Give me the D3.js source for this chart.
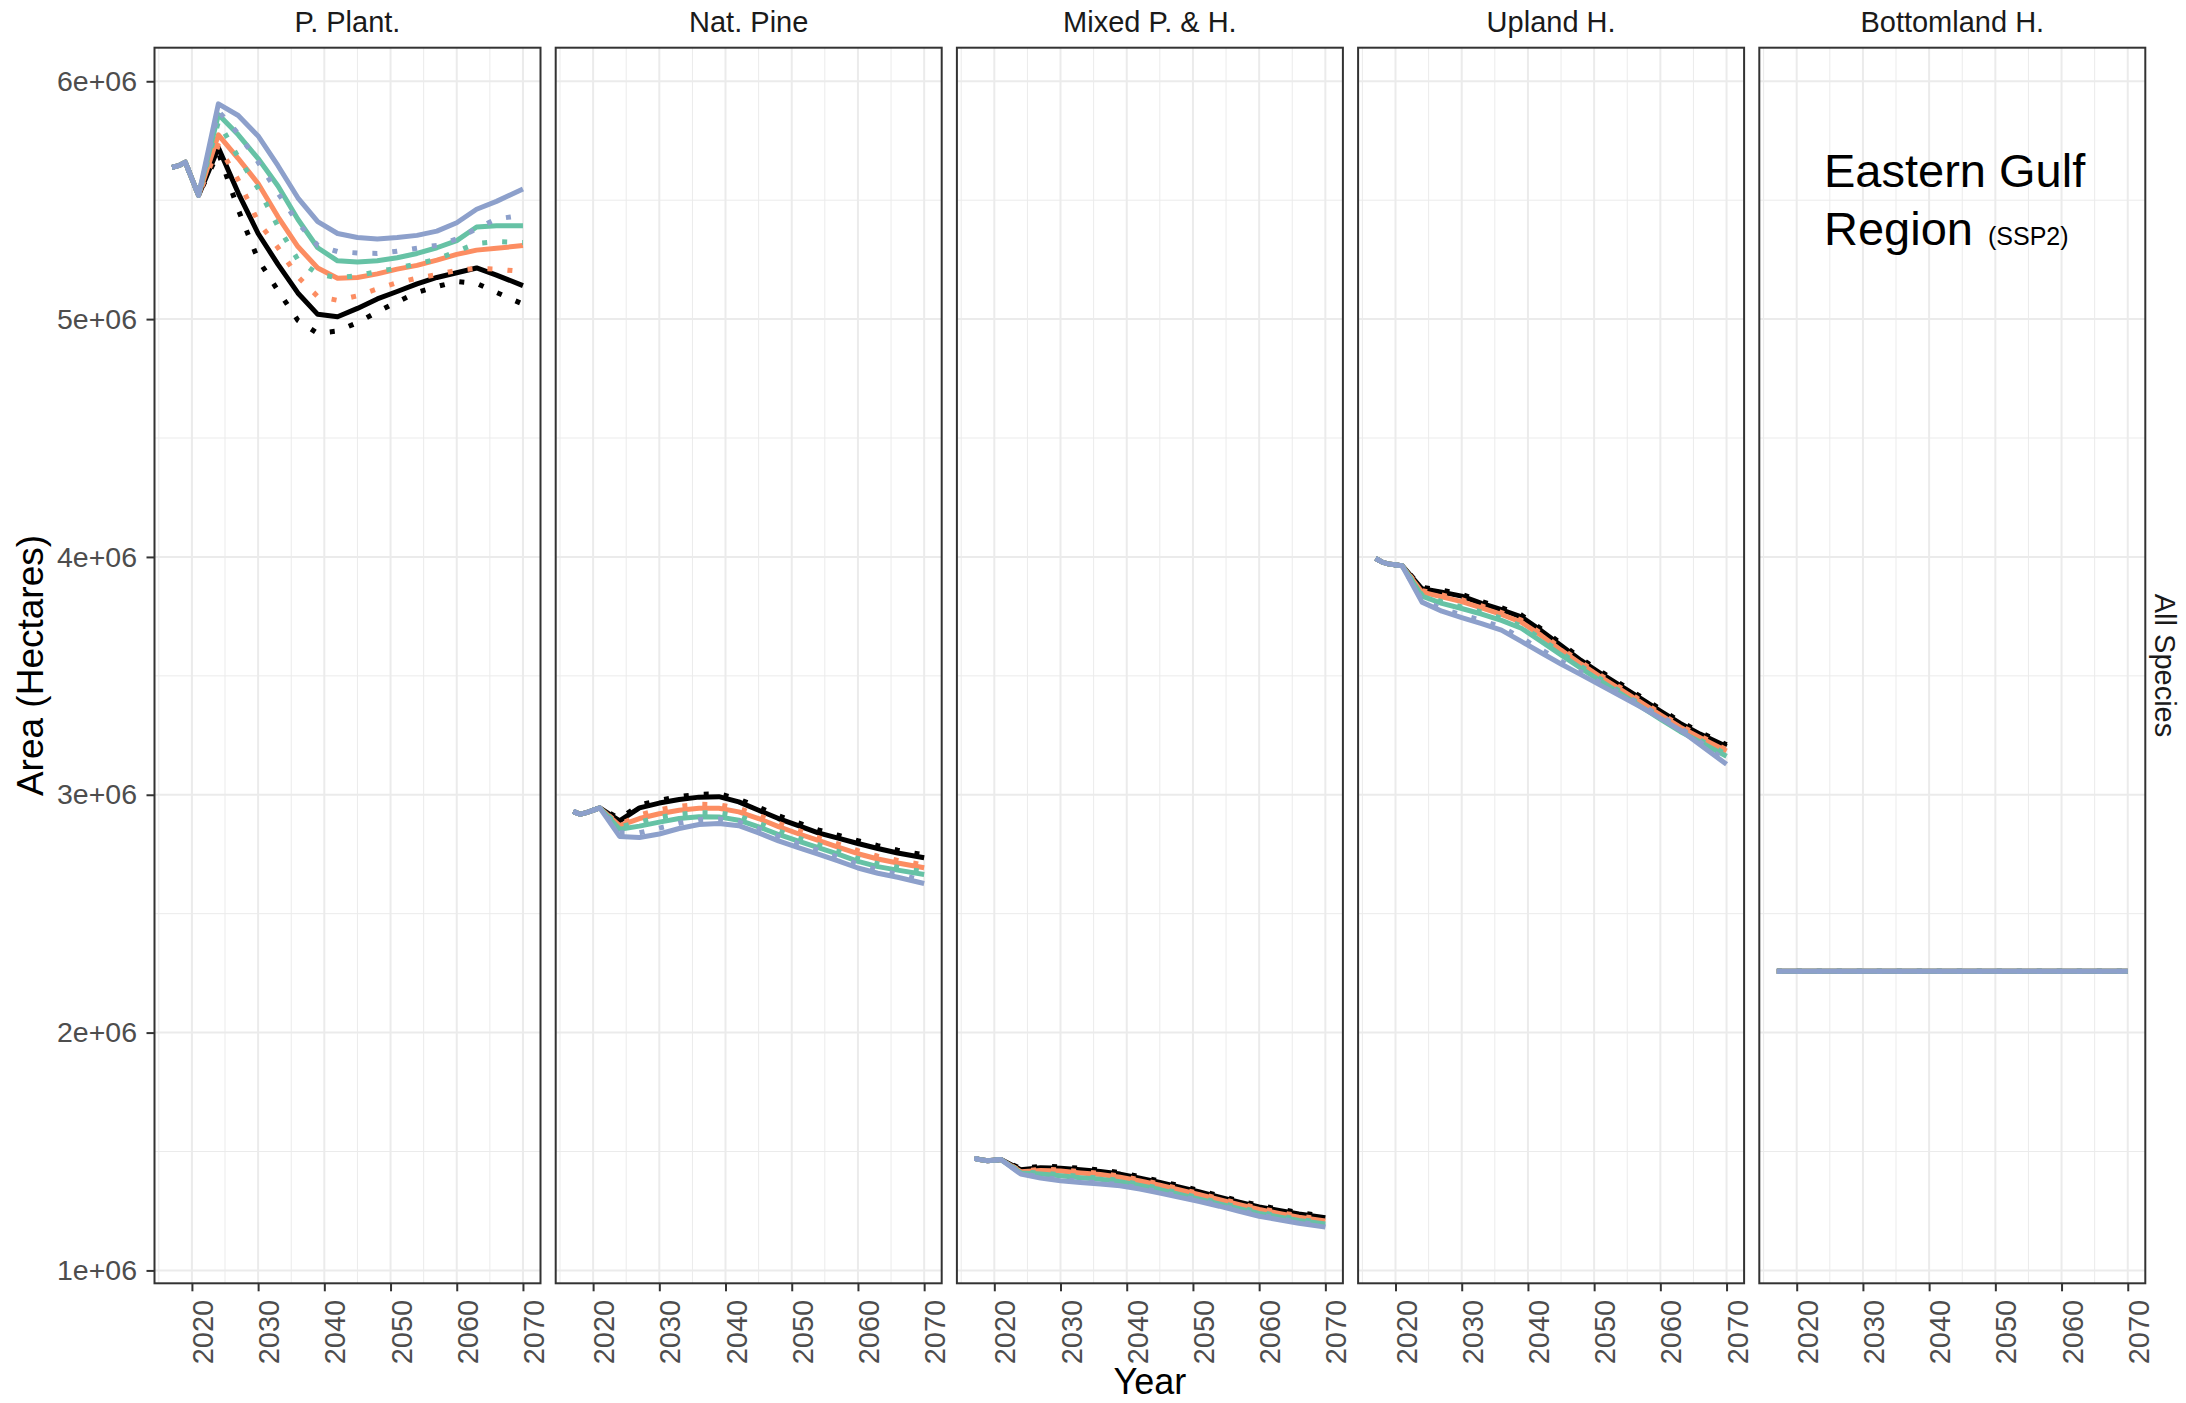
<!DOCTYPE html>
<html>
<head>
<meta charset="utf-8">
<script src="https://cdn.jsdelivr.net/npm/d3@7"></script>
<style>
  body { margin: 0; background: #fff; }
  svg { display: block; font-family: "Liberation Sans", Arial, sans-serif; }
</style>
</head>
<body>
<div id="container"></div>
<script>
// facet titles, left to right
const panelNames = ["P. Plant.", "Nat. Pine", "Mixed P. & H.", "Upland H.", "Bottomland H."];

// years: shared history, then the projection years
const histYears = [2017, 2018, 2019, 2021];
const projYears = [2024, 2027, 2030, 2033, 2036, 2039, 2042, 2045, 2048, 2051, 2054, 2057, 2060, 2063, 2066, 2070];

// y ticks and x ticks
const yTicks = [1e6, 2e6, 3e6, 4e6, 5e6, 6e6];
const xTicks = [2020, 2030, 2040, 2050, 2060, 2070];

// all values below are in millions of hectares
// P. Plant.
const pPlantHist = [5.638, 5.645, 5.660, 5.520];
const pPlantBlue = [5.905, 5.856, 5.770, 5.645, 5.510, 5.410, 5.360, 5.343, 5.337, 5.343, 5.352, 5.370, 5.405, 5.462, 5.495, 5.547];
const pPlantBlueDot = [5.875, 5.780, 5.660, 5.530, 5.405, 5.310, 5.284, 5.278, 5.276, 5.285, 5.298, 5.310, 5.337, 5.380, 5.421, 5.437];
const pPlantTeal = [5.860, 5.775, 5.675, 5.560, 5.420, 5.300, 5.245, 5.240, 5.245, 5.258, 5.276, 5.300, 5.330, 5.387, 5.393, 5.392];
const pPlantTealDot = [5.830, 5.680, 5.550, 5.390, 5.250, 5.190, 5.174, 5.182, 5.200, 5.214, 5.232, 5.252, 5.285, 5.318, 5.326, 5.322];
const pPlantOrange = [5.775, 5.675, 5.570, 5.430, 5.305, 5.215, 5.172, 5.175, 5.190, 5.210, 5.226, 5.248, 5.272, 5.290, 5.298, 5.309];
const pPlantOrangeDot = [5.730, 5.585, 5.410, 5.300, 5.178, 5.095, 5.079, 5.098, 5.127, 5.153, 5.172, 5.187, 5.205, 5.214, 5.210, 5.200];
const pPlantBlack = [5.720, 5.530, 5.360, 5.230, 5.110, 5.020, 5.010, 5.045, 5.085, 5.116, 5.148, 5.175, 5.195, 5.215, 5.185, 5.141];
const pPlantBlackDot = [5.700, 5.460, 5.250, 5.120, 4.995, 4.940, 4.950, 4.985, 5.030, 5.072, 5.112, 5.137, 5.158, 5.150, 5.112, 5.063];

// Nat. Pine
const natPineHist = [2.930, 2.918, 2.925, 2.945];
const natPineBlue = [2.825, 2.820, 2.835, 2.858, 2.875, 2.879, 2.870, 2.840, 2.806, 2.778, 2.750, 2.722, 2.692, 2.670, 2.653, 2.627];
const natPineBlueDot = [2.840, 2.840, 2.860, 2.880, 2.895, 2.898, 2.885, 2.857, 2.825, 2.795, 2.767, 2.738, 2.708, 2.685, 2.665, 2.640];
const natPineTeal = [2.855, 2.868, 2.885, 2.900, 2.908, 2.907, 2.893, 2.865, 2.833, 2.805, 2.778, 2.750, 2.720, 2.698, 2.683, 2.665];
const natPineTealDot = [2.865, 2.885, 2.905, 2.918, 2.925, 2.924, 2.910, 2.880, 2.848, 2.818, 2.790, 2.762, 2.732, 2.710, 2.695, 2.675];
const natPineOrange = [2.870, 2.900, 2.920, 2.935, 2.943, 2.943, 2.928, 2.900, 2.866, 2.836, 2.808, 2.780, 2.752, 2.730, 2.713, 2.693];
const natPineOrangeDot = [2.875, 2.915, 2.937, 2.952, 2.960, 2.958, 2.943, 2.913, 2.880, 2.850, 2.820, 2.793, 2.765, 2.742, 2.724, 2.705];
const natPineBlack = [2.890, 2.945, 2.965, 2.980, 2.990, 2.992, 2.970, 2.935, 2.900, 2.870, 2.840, 2.818, 2.795, 2.774, 2.755, 2.735];
const natPineBlackDot = [2.900, 2.957, 2.977, 2.992, 3.002, 3.004, 2.982, 2.947, 2.912, 2.882, 2.852, 2.830, 2.807, 2.786, 2.767, 2.747];

// Mixed P. & H.
const mixedHist = [1.471, 1.465, 1.461, 1.466];
const mixedBlue = [1.405, 1.388, 1.377, 1.370, 1.363, 1.356, 1.342, 1.325, 1.307, 1.290, 1.270, 1.248, 1.228, 1.213, 1.198, 1.182];
const mixedBlueDot = [1.408, 1.393, 1.382, 1.375, 1.368, 1.361, 1.347, 1.330, 1.312, 1.294, 1.274, 1.253, 1.233, 1.218, 1.203, 1.187];
const mixedTeal = [1.410, 1.405, 1.398, 1.390, 1.383, 1.373, 1.357, 1.340, 1.320, 1.300, 1.280, 1.260, 1.240, 1.225, 1.210, 1.195];
const mixedTealDot = [1.413, 1.410, 1.403, 1.395, 1.388, 1.378, 1.362, 1.345, 1.325, 1.305, 1.285, 1.265, 1.245, 1.230, 1.215, 1.200];
const mixedOrange = [1.415, 1.420, 1.418, 1.410, 1.403, 1.392, 1.376, 1.358, 1.338, 1.318, 1.297, 1.276, 1.256, 1.240, 1.224, 1.208];
const mixedOrangeDot = [1.418, 1.425, 1.423, 1.415, 1.408, 1.397, 1.381, 1.363, 1.343, 1.323, 1.302, 1.281, 1.261, 1.245, 1.229, 1.213];
const mixedBlack = [1.423, 1.432, 1.430, 1.423, 1.416, 1.405, 1.388, 1.370, 1.350, 1.330, 1.308, 1.287, 1.267, 1.252, 1.237, 1.222];
const mixedBlackDot = [1.428, 1.438, 1.436, 1.429, 1.422, 1.411, 1.394, 1.376, 1.356, 1.336, 1.314, 1.293, 1.273, 1.258, 1.243, 1.228];

// Upland H.
const uplandHist = [3.994, 3.978, 3.970, 3.963];
const uplandBlue = [3.810, 3.772, 3.745, 3.720, 3.692, 3.645, 3.597, 3.550, 3.505, 3.460, 3.415, 3.370, 3.322, 3.272, 3.210, 3.128];
const uplandBlueDot = [3.818, 3.782, 3.757, 3.733, 3.705, 3.660, 3.610, 3.562, 3.516, 3.470, 3.425, 3.379, 3.331, 3.281, 3.222, 3.140];
const uplandTeal = [3.835, 3.805, 3.783, 3.760, 3.733, 3.700, 3.645, 3.588, 3.532, 3.478, 3.425, 3.372, 3.318, 3.266, 3.222, 3.162];
const uplandTealDot = [3.840, 3.812, 3.790, 3.768, 3.742, 3.710, 3.655, 3.597, 3.540, 3.486, 3.433, 3.380, 3.326, 3.275, 3.230, 3.170];
const uplandOrange = [3.852, 3.832, 3.812, 3.786, 3.758, 3.726, 3.670, 3.608, 3.550, 3.495, 3.442, 3.390, 3.336, 3.284, 3.240, 3.184];
const uplandOrangeDot = [3.858, 3.840, 3.820, 3.794, 3.766, 3.734, 3.678, 3.616, 3.557, 3.502, 3.450, 3.397, 3.343, 3.291, 3.247, 3.190];
const uplandBlack = [3.866, 3.852, 3.835, 3.805, 3.778, 3.748, 3.690, 3.628, 3.565, 3.510, 3.458, 3.405, 3.352, 3.300, 3.255, 3.203];
const uplandBlackDot = [3.872, 3.860, 3.843, 3.813, 3.786, 3.756, 3.698, 3.636, 3.573, 3.518, 3.466, 3.413, 3.360, 3.308, 3.263, 3.210];

// Bottomland H. (all scenarios identical)
const bottomHist = [2.258, 2.258, 2.258, 2.258];
const bottomProj = [2.258, 2.258, 2.258, 2.258, 2.258, 2.258, 2.258, 2.258, 2.258, 2.258, 2.258, 2.258, 2.258, 2.258, 2.258, 2.258];

// draw order: last one ends up on top
const seriesKeys = ["blackDot", "black", "orangeDot", "orange", "tealDot", "teal", "blueDot", "blue"];

const panelData = [
    {hist: pPlantHist, proj: {blue: pPlantBlue, blueDot: pPlantBlueDot, teal: pPlantTeal, tealDot: pPlantTealDot,
        orange: pPlantOrange, orangeDot: pPlantOrangeDot, black: pPlantBlack, blackDot: pPlantBlackDot}},
    {hist: natPineHist, proj: {blue: natPineBlue, blueDot: natPineBlueDot, teal: natPineTeal, tealDot: natPineTealDot,
        orange: natPineOrange, orangeDot: natPineOrangeDot, black: natPineBlack, blackDot: natPineBlackDot}},
    {hist: mixedHist, proj: {blue: mixedBlue, blueDot: mixedBlueDot, teal: mixedTeal, tealDot: mixedTealDot,
        orange: mixedOrange, orangeDot: mixedOrangeDot, black: mixedBlack, blackDot: mixedBlackDot}},
    {hist: uplandHist, proj: {blue: uplandBlue, blueDot: uplandBlueDot, teal: uplandTeal, tealDot: uplandTealDot,
        orange: uplandOrange, orangeDot: uplandOrangeDot, black: uplandBlack, blackDot: uplandBlackDot}},
    {hist: bottomHist, proj: {blue: bottomProj, blueDot: bottomProj, teal: bottomProj, tealDot: bottomProj,
        orange: bottomProj, orangeDot: bottomProj, black: bottomProj, blackDot: bottomProj}}
];

const years = histYears.concat(projYears);

// line look for each series
const seriesStyle = {
    blue: {color: "#8DA0CB", dash: null},
    blueDot: {color: "#8DA0CB", dash: "5 15"},
    teal: {color: "#66C2A5", dash: null},
    tealDot: {color: "#66C2A5", dash: "5 15"},
    orange: {color: "#FC8D62", dash: null},
    orangeDot: {color: "#FC8D62", dash: "5 15"},
    black: {color: "#000000", dash: null},
    blackDot: {color: "#000000", dash: "5 15"}
};

const width = 2186;
const height = 1403;
const panelLeft = 154.5;
const panelWidth = 386;
const panelStep = 401.2;
const panelTop = 47.7;
const panelBottom = 1283.3;
const tickLen = 8;

// build point lists
function toPoints(hist, proj) {
    return years.map((yr, i) => ({
        year: yr,
        value: (i < hist.length ? hist[i] : proj[i - hist.length]) * 1e6
    }));
}

const allValues = [];
panelData.forEach(p => seriesKeys.forEach(k => {
    p.hist.concat(p.proj[k]).forEach(v => allValues.push(v * 1e6));
}));

// ggplot style 5% expansion on both scales
const xExt = d3.extent(years);
const xPad = (xExt[1] - xExt[0]) * 0.05;
const yExt = d3.extent(allValues);
const yPad = (yExt[1] - yExt[0]) * 0.05;

const xScale = d3.scaleLinear()
    .domain([xExt[0] - xPad, xExt[1] + xPad])
    .range([0, panelWidth]);

const yScale = d3.scaleLinear()
    .domain([yExt[0] - yPad, yExt[1] + yPad])
    .range([panelBottom, panelTop]);

const svg = d3.select("#container")
    .append("svg")
    .attr("width", width)
    .attr("height", height);

svg.append("rect")
    .attr("width", width)
    .attr("height", height)
    .attr("fill", "#fff");

const line = d3.line()
    .x(d => xScale(d.year))
    .y(d => yScale(d.value));

const xMinor = [2015, 2025, 2035, 2045, 2055, 2065];
const yMinor = [1.5e6, 2.5e6, 3.5e6, 4.5e6, 5.5e6];

const sciFormat = d => d3.format(".0e")(d).replace(/e\+(\d)$/, "e+0$1");

panelNames.forEach((name, i) => {
    const px = panelLeft + i * panelStep;
    const g = svg.append("g").attr("transform", `translate(${px},0)`);

    //grid lines, minor then major
    g.selectAll(".xminor").data(xMinor).enter().append("line")
        .attr("x1", d => xScale(d)).attr("x2", d => xScale(d))
        .attr("y1", panelTop).attr("y2", panelBottom)
        .attr("stroke", "#EBEBEB").attr("stroke-width", 1);
    g.selectAll(".yminor").data(yMinor).enter().append("line")
        .attr("x1", 0).attr("x2", panelWidth)
        .attr("y1", d => yScale(d)).attr("y2", d => yScale(d))
        .attr("stroke", "#EBEBEB").attr("stroke-width", 1);
    g.selectAll(".xmajor").data(xTicks).enter().append("line")
        .attr("x1", d => xScale(d)).attr("x2", d => xScale(d))
        .attr("y1", panelTop).attr("y2", panelBottom)
        .attr("stroke", "#EBEBEB").attr("stroke-width", 2);
    g.selectAll(".ymajor").data(yTicks).enter().append("line")
        .attr("x1", 0).attr("x2", panelWidth)
        .attr("y1", d => yScale(d)).attr("y2", d => yScale(d))
        .attr("stroke", "#EBEBEB").attr("stroke-width", 2);

    //the scenario lines
    const p = panelData[i];
    seriesKeys.forEach(k => {
        const st = seriesStyle[k];
        g.append("path")
            .datum(toPoints(p.hist, p.proj[k]))
            .attr("d", line)
            .attr("fill", "none")
            .attr("stroke", st.color)
            .attr("stroke-width", 5)
            .attr("stroke-linejoin", "round")
            .attr("stroke-dasharray", st.dash);
    });

    //panel border
    g.append("rect")
        .attr("x", 0).attr("y", panelTop)
        .attr("width", panelWidth).attr("height", panelBottom - panelTop)
        .attr("fill", "none")
        .attr("stroke", "#333333")
        .attr("stroke-width", 2);

    //strip title
    g.append("text")
        .attr("x", panelWidth / 2)
        .attr("y", 32)
        .attr("text-anchor", "middle")
        .attr("font-size", 29)
        .attr("fill", "#1A1A1A")
        .text(name);

    //bottom axis with rotated labels
    const xAxis = g.append("g")
        .attr("transform", `translate(0,${panelBottom})`)
        .call(d3.axisBottom(xScale).tickValues(xTicks).tickSize(tickLen).tickFormat(d3.format("d")));
    xAxis.select(".domain").remove();
    xAxis.selectAll(".tick line").attr("stroke", "#333333").attr("stroke-width", 2);
    xAxis.selectAll(".tick text")
        .attr("transform", "rotate(-90)")
        .attr("x", -16.5)
        .attr("y", 20.5)
        .attr("dy", 0)
        .attr("text-anchor", "end")
        .attr("font-size", 29)
        .attr("font-family", "Liberation Sans, Arial, sans-serif")
        .attr("fill", "#4D4D4D");

    //left axis on the first panel only
    if (i === 0) {
        const yAxis = g.append("g")
            .call(d3.axisLeft(yScale).tickValues(yTicks).tickSize(tickLen).tickPadding(9.5).tickFormat(sciFormat));
        yAxis.select(".domain").remove();
        yAxis.selectAll(".tick line").attr("stroke", "#333333").attr("stroke-width", 2);
        yAxis.selectAll(".tick text")
            .attr("font-size", 28.5)
            .attr("font-family", "Liberation Sans, Arial, sans-serif")
            .attr("fill", "#4D4D4D");
    }
});

const midY = (panelTop + panelBottom) / 2;
const lastRight = panelLeft + 4 * panelStep + panelWidth;

//right strip label
svg.append("text")
    .attr("transform", `translate(${lastRight + 10},${midY}) rotate(90)`)
    .attr("text-anchor", "middle")
    .attr("font-size", 29)
    .attr("fill", "#1A1A1A")
    .text("All Species");

//axis titles
svg.append("text")
    .attr("transform", `translate(42.5,${midY}) rotate(-90)`)
    .attr("text-anchor", "middle")
    .attr("font-size", 37)
    .attr("fill", "#000")
    .text("Area (Hectares)");

svg.append("text")
    .attr("x", (panelLeft + lastRight) / 2)
    .attr("y", 1394)
    .attr("text-anchor", "middle")
    .attr("font-size", 36)
    .attr("fill", "#000")
    .text("Year");

//region annotation inside the last panel
svg.append("text")
    .attr("x", 1824)
    .attr("y", 187)
    .attr("font-size", 47)
    .attr("fill", "#000")
    .text("Eastern Gulf");

const region = svg.append("text")
    .attr("x", 1824)
    .attr("y", 245)
    .attr("font-size", 47)
    .attr("fill", "#000")
    .text("Region");
region.append("tspan")
    .attr("dx", 15)
    .attr("font-size", 25)
    .text("(SSP2)");
</script>
</body>
</html>
